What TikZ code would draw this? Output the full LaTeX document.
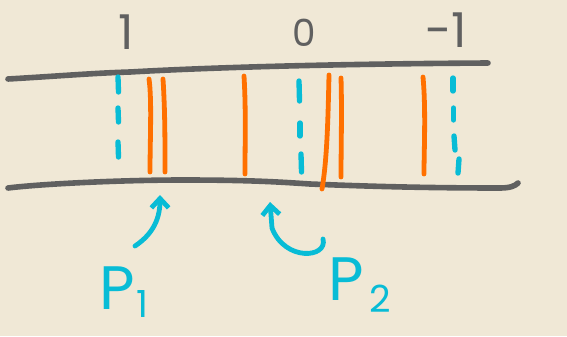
\documentclass[tikz,border=0pt]{standalone}
\usepackage{fontspec}
\setmainfont{Poppins}
\usetikzlibrary{arrows.meta}
\definecolor{paper}{RGB}{240,232,214}
\definecolor{ink}{RGB}{96,96,96}
\definecolor{flame}{RGB}{255,112,0}
\definecolor{teal}{RGB}{8,188,214}
\tikzset{
  edge/.style={ink, line width=4.2pt, line cap=round, line join=round},
  slit/.style={flame, line width=3.6pt, line cap=round},
  probe/.style={teal, line width=4pt, line cap=round},
  pointer/.style={teal, line width=3.6pt, line cap=round, line join=round,
    -{Straight Barb[length=7pt,width=13pt,line width=3.6pt]}},
  tick/.style={ink, inner sep=0pt, font=\fontsize{36}{36}\selectfont},
  tag/.style={teal, inner sep=0pt, font=\fontsize{46}{46}\selectfont},
  subtag/.style={teal, inner sep=0pt, font=\fontsize{28}{28}\selectfont},
}
\begin{document}
\begin{tikzpicture}[x=0.75pt,y=-0.75pt]
  \fill[paper] (0,0) rectangle (567,336);
  \useasboundingbox (0,0) rectangle (567,336);

  % scale values above the strip
  \node[tick] (one) at (126,32) {1};
  \node[tick, font=\fontsize{28}{28}\selectfont] (zero) at (304,33) {0};
  \node[tick] (mone) at (446,30) {-1};

  % the two edges of the strip
  \draw[edge] (8,79) .. controls (60,76) and (95,73) .. (130,72)
    .. controls (200,68) and (320,64) .. (488,63);
  \draw[edge] (8,188) .. controls (40,184) and (120,180) .. (183,180)
    .. controls (250,180) and (280,182) .. (310,184)
    .. controls (360,186) and (420,188) .. (500,188)
    .. controls (510,188) and (515,186) .. (518,183);

  % dashed reference lines
  \foreach \ya/\yb in {77/92, 108/122, 142/157}
    \draw[probe] (118,\ya) -- (118.5,\yb);
  \draw[probe] (299,81) -- (299.5,101);
  \draw[probe] (300,123) -- (300,136);
  \draw[probe] (301,154) -- (301.5,172);
  \draw[probe] (453,78) -- (453,91);
  \draw[probe] (453.5,108) -- (453.5,120);
  \draw[probe] (454,136) -- (455,150);
  \draw[probe] (459,159) -- (458,173);

  % orange lines
  \draw[slit] (149,79) .. controls (152,100) and (150,140) .. (150,172);
  \draw[slit] (163,79) .. controls (165,110) and (165,140) .. (165,172);
  \draw[slit] (244,76) .. controls (246,110) and (245,140) .. (245,174);
  \draw[slit] (329,75) .. controls (328,120) and (327,160) .. (322,189);
  \draw[slit] (341,78) .. controls (342,110) and (341,150) .. (341,177);
  \draw[slit] (423,77) .. controls (426,110) and (424,150) .. (424,174);

  % labels with their pointers
  \node[tag] (p1) at (117,288) {P};
  \node[subtag] (s1) at (142,304) {1};
  \node[tag] (p2) at (346,279) {P};
  \node[subtag] (s2) at (380,299) {2};

  \coordinate (a1) at (135,246);
  \coordinate (t1) at (160,195);
  \coordinate (a2) at (323,239);
  \coordinate (t2) at (270,202);
  \draw[pointer] (a1) .. controls (150,236) and (160,222) .. (t1);
  \draw[pointer] (a2) .. controls (328,258) and (285,262) .. (272,228) -- (t2);
\end{tikzpicture}
\end{document}
